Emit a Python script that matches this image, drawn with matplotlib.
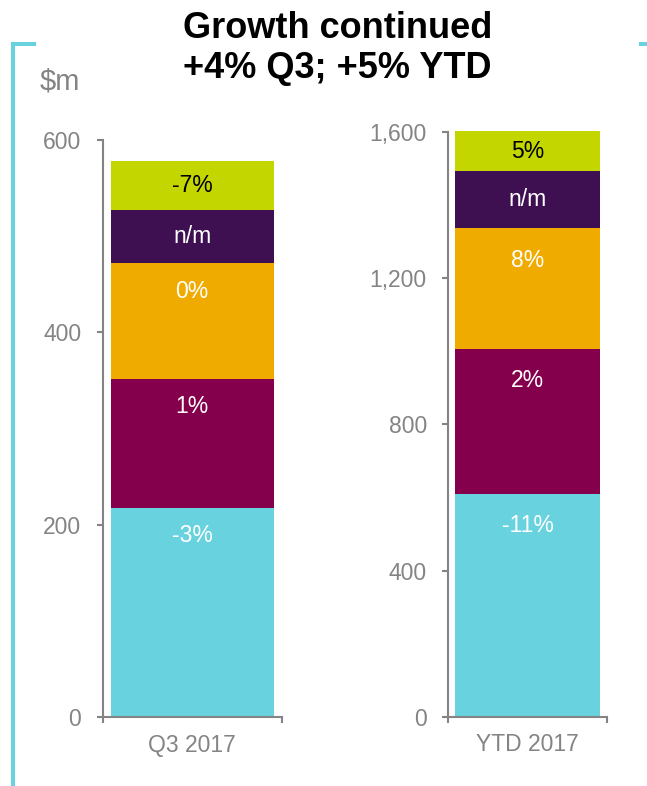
import matplotlib
matplotlib.use("Agg")
import matplotlib.pyplot as plt
from matplotlib.lines import Line2D

plt.rcParams['font.family'] = ['Liberation Sans', 'DejaVu Sans']

# data ($m), stacked bottom -> top
segments = ["seg1", "seg2", "seg3", "seg4", "seg5"]
colors = ["#68D2DF", "#84004C", "#F0AB00", "#3E1051", "#C4D600"]
q3_values = [218, 134, 120, 55, 51]
q3_labels = ["-3%", "1%", "0%", "n/m", "-7%"]
ytd_values = [610, 397, 330, 156, 110]
ytd_labels = ["-11%", "2%", "8%", "n/m", "5%"]
label_colors = ["white", "white", "white", "white", "black"]

q3_ticks = [0, 200, 400, 600]
ytd_ticks = [0, 400, 800, 1200, 1600]

GRAY = "#848484"
W, H = 647, 786
fig = plt.figure(figsize=(W / 100, H / 100), dpi=100)


def px_box(x0, x1, ytop, ybot):
    return [x0 / W, 1 - ybot / H, (x1 - x0) / W, (ybot - ytop) / H]


def stacked(ax, values, labels, ymax, ticks, cat, max_off):
    bottom = 0
    ppu = ax.bbox.height / ymax  # pixels per data unit
    for v, c, lab, lc in zip(values, colors, labels, label_colors):
        ax.bar(0, v, width=0.91, bottom=bottom, color=c, clip_on=False, zorder=2)
        top = bottom + v
        off = min(v * ppu / 2, max_off)
        ax.annotate(lab, xy=(0, top), xytext=(0, -off * 72 / 100),
                    textcoords="offset points", ha="center", va="center",
                    fontsize=16.5, color=lc, zorder=3, annotation_clip=False)
        bottom = top
    ax.set_xlim(-0.5, 0.5)
    ax.set_ylim(0, ymax)
    ax.set_yticks(ticks)
    ax.set_yticklabels([f"{t:,}" for t in ticks])
    ax.set_xticks([0])
    ax.set_xticklabels([cat])
    ax.set_xticks([-0.5, 0.5], minor=True)
    ax.tick_params(axis="x", which="major", length=0, pad=12, labelsize=16.5, labelcolor=GRAY)
    ax.tick_params(axis="x", which="minor", length=4.5, width=1.5, color=GRAY, direction="out")
    ax.tick_params(axis="y", length=4.5, width=1.5, color=GRAY, pad=11,
                   labelsize=16.5, labelcolor=GRAY)
    for s in ["top", "right"]:
        ax.spines[s].set_visible(False)
    for s in ["left", "bottom"]:
        ax.spines[s].set_color(GRAY)
        ax.spines[s].set_linewidth(1.5)


ax1 = fig.add_axes(px_box(102.7, 281.7, 140, 717.3))
stacked(ax1, q3_values, q3_labels, 600, q3_ticks, "Q3 2017", 28)

ax2 = fig.add_axes(px_box(448.3, 607.3, 132, 716.7))
stacked(ax2, ytd_values, ytd_labels, 1600, ytd_ticks, "YTD 2017", 32)

# title
fig.text(337.5 / W, 1 - 38 / H, "Growth continued", ha="center", va="baseline",
         fontsize=26, fontweight="bold", color="black")
fig.text(337.5 / W, 1 - 78 / H, "+4% Q3; +5% YTD", ha="center", va="baseline",
         fontsize=26, fontweight="bold", color="black")

fig.text(40 / W, 1 - 90 / H, r"\$m", ha="left", va="baseline", fontsize=21, color=GRAY)

# cyan bracket decoration
cy = "#68D2DF"
fig.add_artist(Line2D([13 / W, 13 / W], [1 - 43.5 / H, 0], transform=fig.transFigure,
                      color=cy, linewidth=2.9, solid_capstyle="butt"))
fig.add_artist(Line2D([11 / W, 36 / W], [1 - 43.5 / H, 1 - 43.5 / H], transform=fig.transFigure,
                      color=cy, linewidth=2.9, solid_capstyle="butt"))
fig.add_artist(Line2D([639 / W, 1], [1 - 43.5 / H, 1 - 43.5 / H], transform=fig.transFigure,
                      color=cy, linewidth=2.9, solid_capstyle="butt"))

fig.savefig("out.png", dpi=100)
